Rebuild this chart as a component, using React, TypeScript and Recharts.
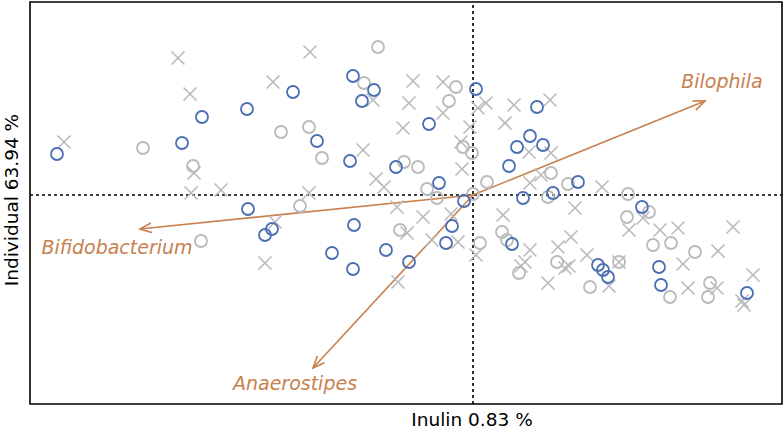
import React from 'react';
import {
  ScatterChart,
  Scatter,
  XAxis,
  YAxis,
  ReferenceLine,
  ReferenceArea,
  ReferenceDot,
} from 'recharts';

// sample scores on the two components (x: Inulin, y: Individual)
const blueCircles: [number, number][] = [
  [-4.16, 0.41], [-2.91, 0.52], [-2.71, 0.78], [-2.26, 0.86], [-1.8, 1.03],
  [-2.25, -0.14], [-2.08, -0.4], [-2.01, -0.34], [-1.56, 0.54], [-1.2, 1.19],
  [-0.99, 1.05], [-1.11, 0.94], [-1.23, 0.34], [-0.77, 0.28], [-0.44, 0.71],
  [-0.34, 0.12], [-0.09, -0.06], [-0.21, -0.31], [-0.27, -0.48], [0.03, 1.06],
  [0.64, 0.88], [0.57, 0.59], [0.44, 0.48], [0.7, 0.5], [0.36, 0.29],
  [1.05, 0.13], [0.5, -0.03], [0.8, 0.02], [-1.19, -0.3], [-1.41, -0.58],
  [-1.2, -0.74], [-0.87, -0.55], [-0.64, -0.67], [0.39, -0.49], [1.69, -0.12],
  [1.25, -0.7], [1.3, -0.75], [1.35, -0.82], [1.86, -0.72], [1.88, -0.9],
  [2.74, -0.98],
];

const greyCircles: [number, number][] = [
  [-3.3, 0.47], [-2.8, 0.29], [-1.92, 0.63], [-0.95, 1.48], [-1.09, 1.12],
  [-0.17, 1.08], [-0.24, 0.94], [-1.64, 0.68], [-1.51, 0.37], [-0.69, 0.33],
  [-0.55, 0.28], [-0.1, 0.48], [-0.01, 0.42], [-0.46, 0.06], [0.14, 0.13],
  [0.0, 0.01], [-1.73, -0.11], [-2.72, -0.46], [-0.36, -0.03], [-0.73, -0.35],
  [0.07, -0.48], [0.29, -0.37], [0.34, -0.45], [0.46, -0.78], [0.75, -0.02],
  [0.78, 0.22], [0.95, 0.11], [1.55, 0.01], [1.76, -0.17], [1.54, -0.22],
  [1.8, -0.5], [1.98, -0.48], [2.22, -0.57], [0.84, -0.67], [1.17, -0.92],
  [1.46, -0.67], [1.97, -1.02], [2.37, -0.88], [2.35, -1.02],
];

const greyCrosses: [number, number][] = [
  [-4.09, 0.53], [-2.95, 1.37], [-2.83, 1.01], [-2.79, 0.22], [-2.82, 0.02],
  [-2.52, 0.05], [-2.0, 1.13], [-1.63, 1.43], [-1.0, 0.95], [-0.6, 1.14],
  [-0.3, 1.13], [-0.64, 0.92], [-0.3, 0.82], [-0.7, 0.67], [-1.1, 0.45],
  [-0.97, 0.16], [-0.89, 0.08], [-1.64, 0.02], [-1.98, -0.27], [-2.08, -0.68],
  [-0.76, -0.12], [-0.66, -0.38], [-0.5, -0.22], [-0.22, -0.19], [-0.41, -0.45],
  [-0.15, -0.47], [0.03, -0.6], [-0.75, -0.87], [-0.12, 0.53], [-0.11, 0.26],
  [-0.03, 0.68], [0.05, 0.87], [0.13, 0.92], [0.41, 0.9], [0.32, 0.72],
  [0.77, 0.95], [0.56, 0.43], [0.78, 0.42], [0.68, 0.2], [0.57, 0.12],
  [0.3, -0.2], [0.57, -0.55], [0.52, -0.67], [0.48, -0.71], [0.75, -0.88],
  [0.85, -0.52], [0.98, -0.42], [1.14, -0.6], [0.92, -0.73], [0.96, -0.71],
  [1.02, -0.13], [1.29, 0.08], [1.56, -0.35], [1.7, -0.23], [1.87, -0.35],
  [2.05, -0.33], [2.6, -0.32], [2.45, -0.56], [2.1, -0.69], [1.36, -0.91],
  [2.15, -0.93], [2.44, -0.93], [2.8, -0.8], [2.69, -1.06], [2.71, -1.1],
  [1.46, -0.67],
];

// loading arrows
const arrowNames = ['Bilophila', 'Bifidobacterium', 'Anaerostipes'];
const arrowTips: [number, number][] = [[2.32, 0.94], [-3.33, -0.34], [-1.6, -1.73]];
const arrowLabelPos: [number, number][] = [[2.49, 1.14], [-3.56, -0.52], [-1.78, -1.88]];

const xDomain: [number, number] = [-4.43, 3.09];
const yDomain: [number, number] = [-2.09, 1.93];

const BLUE = '#4c6fb3';
const GREY = '#bababa';
const ARROW = '#c8804f';
const FONT = '"DejaVu Sans", sans-serif';

const toPoints = (arr: [number, number][]) => arr.map(([x, y]) => ({ x, y }));

const OpenCircle = (color: string) => (props: any) => (
  <circle cx={props.cx} cy={props.cy} r={6} fill="none" stroke={color} strokeWidth={1.8} />
);

const Cross = (props: any) => {
  const s = 6.5;
  const { cx, cy } = props;
  return (
    <g stroke={GREY} strokeWidth={1.6}>
      <line x1={cx - s} y1={cy - s} x2={cx + s} y2={cy + s} />
      <line x1={cx - s} y1={cy + s} x2={cx + s} y2={cy - s} />
    </g>
  );
};

export default function App() {
  return (
    <div style={{ position: 'absolute', left: 0, top: 0, width: 784, height: 433, background: '#fff' }}>
      <ScatterChart width={784} height={433} margin={{ top: 2, right: 2, bottom: 29, left: 30 }}>
        <defs>
          <marker id="arrowHead" markerWidth="14" markerHeight="12" refX="12" refY="5" orient="auto" markerUnits="userSpaceOnUse">
            <path d="M0,0 L12,5 L0,10" fill="none" stroke={ARROW} strokeWidth={1.6} />
          </marker>
        </defs>
        <XAxis type="number" dataKey="x" domain={xDomain} hide />
        <YAxis type="number" dataKey="y" domain={yDomain} hide />
        <ReferenceLine x={0} stroke="#000" strokeWidth={1.6} strokeDasharray="3 3" />
        <ReferenceLine y={0} stroke="#000" strokeWidth={1.6} strokeDasharray="3 3" />
        <Scatter data={toPoints(greyCrosses)} shape={Cross} isAnimationActive={false} />
        <Scatter data={toPoints(greyCircles)} shape={OpenCircle(GREY)} isAnimationActive={false} />
        <Scatter data={toPoints(blueCircles)} shape={OpenCircle(BLUE)} isAnimationActive={false} />
        {arrowTips.map(([x, y], i) => (
          <ReferenceLine
            key={arrowNames[i]}
            segment={[{ x: 0, y: 0 }, { x, y }]}
            shape={(p: any) => (
              <line x1={p.x1} y1={p.y1} x2={p.x2} y2={p.y2} stroke={ARROW} strokeWidth={1.6} markerEnd="url(#arrowHead)" />
            )}
          />
        ))}
        {arrowLabelPos.map(([x, y], i) => (
          <ReferenceDot
            key={'lbl' + arrowNames[i]}
            x={x}
            y={y}
            shape={(p: any) => (
              <text
                x={p.cx}
                y={p.cy}
                textAnchor="middle"
                dominantBaseline="central"
                fill={ARROW}
                fontFamily={FONT}
                fontStyle="italic"
                fontSize={19}
              >
                {arrowNames[i]}
              </text>
            )}
          />
        ))}
        <ReferenceArea
          x1={xDomain[0]}
          x2={xDomain[1]}
          y1={yDomain[0]}
          y2={yDomain[1]}
          fill="none"
          fillOpacity={0}
          stroke="#000"
          strokeWidth={1.6}
        />
      </ScatterChart>
      <div
        style={{
          position: 'absolute',
          left: 372,
          width: 200,
          top: 408,
          textAlign: 'center',
          fontFamily: FONT,
          fontSize: 18.5,
          lineHeight: '24px',
        }}
      >
        Inulin 0.83 %
      </div>
      <div
        style={{
          position: 'absolute',
          left: 12 - 110,
          top: 200 - 12,
          width: 220,
          textAlign: 'center',
          fontFamily: FONT,
          fontSize: 18.5,
          lineHeight: '24px',
          transform: 'rotate(-90deg)',
        }}
      >
        Individual 63.94 %
      </div>
    </div>
  );
}
